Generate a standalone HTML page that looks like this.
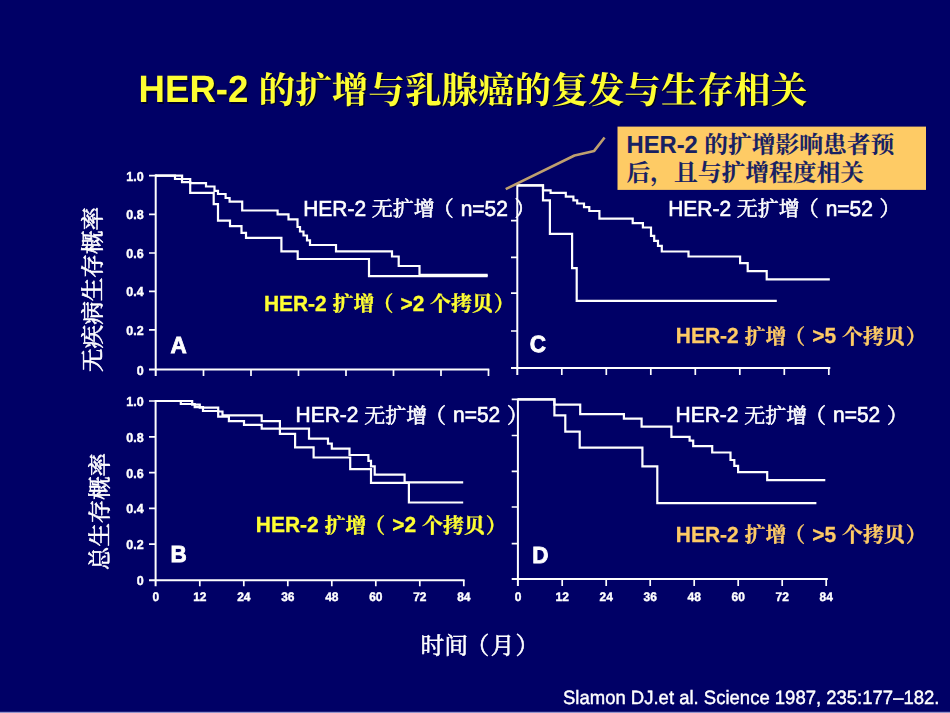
<!DOCTYPE html>
<html lang="zh"><head><meta charset="utf-8"><title>HER-2 的扩增与乳腺癌的复发与生存相关</title>
<style>
html,body{margin:0;padding:0;background:#000066;}
body{width:950px;height:713px;overflow:hidden;position:relative;font-family:"Liberation Sans","Noto Serif CJK SC",sans-serif;}
svg{position:absolute;left:0;top:0;display:block;}
svg text{font-family:"Liberation Sans","Noto Serif CJK SC",sans-serif;font-kerning:none;text-rendering:geometricPrecision;}
.sr{position:absolute;left:0;top:0;width:950px;height:713px;overflow:hidden;opacity:0;font-size:10px;color:transparent;pointer-events:none;}
</style></head><body>
<div class="sr"><h1>HER-2 的扩增与乳腺癌的复发与生存相关</h1><p>HER-2 的扩增影响患者预后，且与扩增程度相关</p><p>无疾病生存概率</p><p>总生存概率</p><p>HER-2 无扩增（ n=52 ）</p><p>HER-2 扩增（ &gt;2 个拷贝）</p><p>HER-2 扩增（ &gt;5 个拷贝）</p><p>时间（月）</p></div>
<svg width="950" height="713" viewBox="0 0 950 713">
<rect width="950" height="713" fill="#000066"/>
<g opacity="0.999">
<path d="M155.7 174.6V376.0M149 369.5H489.3" fill="none" stroke="#fff" stroke-width="2"/><path d="M149 175.6H155.7M149 214.3H155.7M149 253.0H155.7M149 291.4H155.7M149 329.8H155.7M203.5 369.5V376.0M251.0 369.5V376.0M298.5 369.5V376.0M346.0 369.5V376.0M393.5 369.5V376.0M441.0 369.5V376.0M488.5 369.5V376.0" fill="none" stroke="#fff" stroke-width="1.7"/>
<path d="M155.4 175.6H182.1V179H190.2V183.2H206V186.5H214.5V190.8H218V194H225.6V198H229.6V201.7H242.2V210.5H277.6V214.3H288.5V219.4H297.5V227H300V231.5H303.5V235.5H307V240.3H310V245H336V251.3H392V256.5H398.7V266H419.5V274.8H487.7" fill="none" stroke="#fff" stroke-width="2.2" stroke-linejoin="miter"/>
<path d="M155.4 175.6H175V179H182V182.2H190.2V192.8H213.7V204.2H218V220.6H230V226.2H241.5V232.8H246V237.8H281.4V251.3H297.7V259H369V276.2H487.7" fill="none" stroke="#fff" stroke-width="2.2" stroke-linejoin="miter"/>
<path d="M155.6 400V586.3M149 580.3H464.6" fill="none" stroke="#fff" stroke-width="2"/><path d="M149 401H155.6M149 436.8H155.6M149 472.7H155.6M149 508.3H155.6M149 544.2H155.6M199.8 580.3V586.3M243.8 580.3V586.3M287.8 580.3V586.3M331.8 580.3V586.3M375.8 580.3V586.3M419.8 580.3V586.3M463.8 580.3V586.3" fill="none" stroke="#fff" stroke-width="1.7"/>
<path d="M155.6 401H192.2V404.7H199.8V407.7H218.2V411.5H222.5V415.3H261.7V421.1H279.9V428.7H309V438.6H328V443.6H331.8V448.7H349.5V455H368.4V460.8H371V466.4H374.7V474.7H404.6V482.3H463.2" fill="none" stroke="#fff" stroke-width="2.2" stroke-linejoin="miter"/>
<path d="M155.6 401H180.8V404H194.7V407.2H203V411H218.2V416.6H228.9V421.1H244V424.9H261.7V428.7H279.9V433.8H295.1V447.4H313.6V457.5H350.2V469.1H371V482.8H408.9V502.5H463.2" fill="none" stroke="#fff" stroke-width="2.2" stroke-linejoin="miter"/>
<path d="M517.3 184.3V375.1M511 368.1H830.3" fill="none" stroke="#fff" stroke-width="2"/><path d="M511 220.6H517.3M511 257.3H517.3M511 293.1H517.3M511 331.0H517.3M561.8 368.1V375.1M606.3 368.1V375.1M650.8 368.1V375.1M695.3 368.1V375.1M739.8 368.1V375.1M784.3 368.1V375.1M828.8 368.1V375.1" fill="none" stroke="#fff" stroke-width="1.7"/>
<path d="M517.3 185.3H543V190.3H550.6V192.8H565.8V196.6H573.4V200.4H577.2V203.5H584V207.2H589.3V211H599.4V218.6H632.7V223.2H642.9V227.5H651V235.8H654.2V240.8H658V245.9H661.8V251.5H688.5V256.5H740.1V263.1H747.7V271.2H766.7V279.3H829.8" fill="none" stroke="#fff" stroke-width="2.2" stroke-linejoin="miter"/>
<path d="M517.3 185.3H543V200.4H549.9V233.8H572.1V268.1H576.7V300.8H776.8" fill="none" stroke="#fff" stroke-width="2.2" stroke-linejoin="miter"/>
<path d="M517.9 398.4V585.9M511.7 578.9H827.8" fill="none" stroke="#fff" stroke-width="2"/><path d="M511.7 399.4H517.9M511.7 435.5H517.9M511.7 471.4H517.9M511.7 507H517.9M511.7 543.6H517.9M562.2 578.9V585.9M606.2 578.9V585.9M650.2 578.9V585.9M694.2 578.9V585.9M738.2 578.9V585.9M782.2 578.9V585.9M826.2 578.9V585.9" fill="none" stroke="#fff" stroke-width="1.7"/>
<path d="M517.9 399.4H554.4V404.7H580.2V414.1H623.9V418.6H641.6V426.7H671.4V436.8H689.6V440.6H693.2V446.1H712.2V452.5H730.5V460H734.3V465.8H738.1V472.2H767.2V480.2H825.3" fill="none" stroke="#fff" stroke-width="2.2" stroke-linejoin="miter"/>
<path d="M517.9 399.4H554.4V415.3H565.3V431.7H579.7V447.7H642.4V466.4H657.3V503.2H816.4" fill="none" stroke="#fff" stroke-width="2.2" stroke-linejoin="miter"/>
<text transform="translate(143.6,180.6) scale(1,1.041)" font-size="12.5" font-weight="700" fill="#fff" stroke="#fff" stroke-width="0.4" text-anchor="end">1.0</text>
<text transform="translate(143.6,219.3) scale(1,1.041)" font-size="12.5" font-weight="700" fill="#fff" stroke="#fff" stroke-width="0.4" text-anchor="end">0.8</text>
<text transform="translate(143.6,258.0) scale(1,1.041)" font-size="12.5" font-weight="700" fill="#fff" stroke="#fff" stroke-width="0.4" text-anchor="end">0.6</text>
<text transform="translate(143.6,296.4) scale(1,1.041)" font-size="12.5" font-weight="700" fill="#fff" stroke="#fff" stroke-width="0.4" text-anchor="end">0.4</text>
<text transform="translate(143.6,334.8) scale(1,1.041)" font-size="12.5" font-weight="700" fill="#fff" stroke="#fff" stroke-width="0.4" text-anchor="end">0.2</text>
<text transform="translate(143.6,374.5) scale(1,1.041)" font-size="12.5" font-weight="700" fill="#fff" stroke="#fff" stroke-width="0.4" text-anchor="end">0</text>
<text transform="translate(143.6,406.0) scale(1,1.041)" font-size="12.5" font-weight="700" fill="#fff" stroke="#fff" stroke-width="0.4" text-anchor="end">1.0</text>
<text transform="translate(143.6,441.8) scale(1,1.041)" font-size="12.5" font-weight="700" fill="#fff" stroke="#fff" stroke-width="0.4" text-anchor="end">0.8</text>
<text transform="translate(143.6,477.7) scale(1,1.041)" font-size="12.5" font-weight="700" fill="#fff" stroke="#fff" stroke-width="0.4" text-anchor="end">0.6</text>
<text transform="translate(143.6,513.3) scale(1,1.041)" font-size="12.5" font-weight="700" fill="#fff" stroke="#fff" stroke-width="0.4" text-anchor="end">0.4</text>
<text transform="translate(143.6,549.2) scale(1,1.041)" font-size="12.5" font-weight="700" fill="#fff" stroke="#fff" stroke-width="0.4" text-anchor="end">0.2</text>
<text transform="translate(143.6,585.3) scale(1,1.041)" font-size="12.5" font-weight="700" fill="#fff" stroke="#fff" stroke-width="0.4" text-anchor="end">0</text>
<text transform="translate(155.8,601) scale(1,1.041)" font-size="12" font-weight="700" fill="#fff" stroke="#fff" stroke-width="0.4" text-anchor="middle">0</text>
<text transform="translate(199.8,601) scale(1,1.041)" font-size="12" font-weight="700" fill="#fff" stroke="#fff" stroke-width="0.4" text-anchor="middle">12</text>
<text transform="translate(243.8,601) scale(1,1.041)" font-size="12" font-weight="700" fill="#fff" stroke="#fff" stroke-width="0.4" text-anchor="middle">24</text>
<text transform="translate(287.8,601) scale(1,1.041)" font-size="12" font-weight="700" fill="#fff" stroke="#fff" stroke-width="0.4" text-anchor="middle">36</text>
<text transform="translate(331.8,601) scale(1,1.041)" font-size="12" font-weight="700" fill="#fff" stroke="#fff" stroke-width="0.4" text-anchor="middle">48</text>
<text transform="translate(375.8,601) scale(1,1.041)" font-size="12" font-weight="700" fill="#fff" stroke="#fff" stroke-width="0.4" text-anchor="middle">60</text>
<text transform="translate(419.8,601) scale(1,1.041)" font-size="12" font-weight="700" fill="#fff" stroke="#fff" stroke-width="0.4" text-anchor="middle">72</text>
<text transform="translate(463.8,601) scale(1,1.041)" font-size="12" font-weight="700" fill="#fff" stroke="#fff" stroke-width="0.4" text-anchor="middle">84</text>
<text transform="translate(518.2,600.7) scale(1,1.041)" font-size="12" font-weight="700" fill="#fff" stroke="#fff" stroke-width="0.4" text-anchor="middle">0</text>
<text transform="translate(562.2,600.7) scale(1,1.041)" font-size="12" font-weight="700" fill="#fff" stroke="#fff" stroke-width="0.4" text-anchor="middle">12</text>
<text transform="translate(606.2,600.7) scale(1,1.041)" font-size="12" font-weight="700" fill="#fff" stroke="#fff" stroke-width="0.4" text-anchor="middle">24</text>
<text transform="translate(650.2,600.7) scale(1,1.041)" font-size="12" font-weight="700" fill="#fff" stroke="#fff" stroke-width="0.4" text-anchor="middle">36</text>
<text transform="translate(694.2,600.7) scale(1,1.041)" font-size="12" font-weight="700" fill="#fff" stroke="#fff" stroke-width="0.4" text-anchor="middle">48</text>
<text transform="translate(738.2,600.7) scale(1,1.041)" font-size="12" font-weight="700" fill="#fff" stroke="#fff" stroke-width="0.4" text-anchor="middle">60</text>
<text transform="translate(782.2,600.7) scale(1,1.041)" font-size="12" font-weight="700" fill="#fff" stroke="#fff" stroke-width="0.4" text-anchor="middle">72</text>
<text transform="translate(826.2,600.7) scale(1,1.041)" font-size="12" font-weight="700" fill="#fff" stroke="#fff" stroke-width="0.4" text-anchor="middle">84</text>
<text transform="translate(170.5,353.2) scale(1,1.041)" font-size="22.5" font-weight="700" fill="#fff" stroke="#fff" stroke-width="0.8">A</text>
<text transform="translate(170.6,562.2) scale(1,1.041)" font-size="22.5" font-weight="700" fill="#fff" stroke="#fff" stroke-width="0.8">B</text>
<text transform="translate(529.7,352.4) scale(1,1.041)" font-size="22.5" font-weight="700" fill="#fff" stroke="#fff" stroke-width="0.8">C</text>
<text transform="translate(532.3,563.2) scale(1,1.041)" font-size="22.5" font-weight="700" fill="#fff" stroke="#fff" stroke-width="0.8">D</text>
<path d="M505.7 189.1L574.5 155.5L594.2 150.9L604.6 137.5" fill="none" stroke="#BFA070" stroke-width="2.6" stroke-linejoin="round"/>
<rect x="617.5" y="126.6" width="308.5" height="63.3" fill="#FFCC66"/>
<g transform="translate(626.5,152.5)" fill="#182264" stroke="#182264" stroke-width="0.1"><text transform="scale(1,1.041)" x="0.00" y="0" font-size="23.75" font-weight="700" xml:space="preserve">HER-2 </text><text x="77.86" y="0.36" font-size="23.75" font-weight="700">的扩增影响患者预</text></g>
<g transform="translate(626.5,181.0)" fill="#182264" stroke="#182264" stroke-width="0.1"><text x="0" y="0.36" font-size="23.75" font-weight="700">后，且与扩增程度相关</text></g>
<g transform="translate(1.5,1.5)"><g transform="translate(138.6,102.1)" fill="#000028" stroke="#000028" stroke-width="0"><text transform="scale(1,1.041)" x="0.00" y="0" font-size="36.6" font-weight="700" xml:space="preserve">HER-2 </text><text x="119.99" y="0.55" font-size="36.6" font-weight="700">的扩增与乳腺癌的复发与生存相关</text></g></g><g transform="translate(138.6,102.1)" fill="#FFFF33" stroke="#FFFF33" stroke-width="0"><text transform="scale(1,1.041)" x="0.00" y="0" font-size="36.6" font-weight="700" xml:space="preserve">HER-2 </text><text x="119.99" y="0.55" font-size="36.6" font-weight="700">的扩增与乳腺癌的复发与生存相关</text></g>
<g transform="translate(303.2,216)" fill="#fff" stroke="#fff" stroke-width="0.6"><text transform="scale(1,1.041)" x="0.00" y="0" font-size="20.95" xml:space="preserve">HER-2 </text><text x="68.68" y="0.31" font-size="20.95">无扩增</text><text x="129.44" y="0.31" font-size="20.95">（</text><text transform="scale(1,1.041)" x="151.64" y="0" font-size="20.95" xml:space="preserve"> n=52 </text><text x="211.31" y="0.31" font-size="20.95">）</text></g>
<g transform="translate(668.2,216)" fill="#fff" stroke="#fff" stroke-width="0.6"><text transform="scale(1,1.041)" x="0.00" y="0" font-size="20.95" xml:space="preserve">HER-2 </text><text x="68.68" y="0.31" font-size="20.95">无扩增</text><text x="129.44" y="0.31" font-size="20.95">（</text><text transform="scale(1,1.041)" x="151.64" y="0" font-size="20.95" xml:space="preserve"> n=52 </text><text x="211.31" y="0.31" font-size="20.95">）</text></g>
<g transform="translate(295.6,422.3)" fill="#fff" stroke="#fff" stroke-width="0.6"><text transform="scale(1,1.041)" x="0.00" y="0" font-size="20.95" xml:space="preserve">HER-2 </text><text x="68.68" y="0.31" font-size="20.95">无扩增</text><text x="129.44" y="0.31" font-size="20.95">（</text><text transform="scale(1,1.041)" x="151.64" y="0" font-size="20.95" xml:space="preserve"> n=52 </text><text x="211.31" y="0.31" font-size="20.95">）</text></g>
<g transform="translate(675.6,422.3)" fill="#fff" stroke="#fff" stroke-width="0.6"><text transform="scale(1,1.041)" x="0.00" y="0" font-size="20.95" xml:space="preserve">HER-2 </text><text x="68.68" y="0.31" font-size="20.95">无扩增</text><text x="129.44" y="0.31" font-size="20.95">（</text><text transform="scale(1,1.041)" x="151.64" y="0" font-size="20.95" xml:space="preserve"> n=52 </text><text x="211.31" y="0.31" font-size="20.95">）</text></g>
<g transform="translate(263.9,311)" fill="#FFFF33" stroke="#FFFF33" stroke-width="0.3"><text transform="scale(1,1.041)" x="0.00" y="0" font-size="20.95" font-weight="700" xml:space="preserve">HER-2 </text><text x="68.68" y="0.31" font-size="20.95" font-weight="700">扩增</text><text x="108.49" y="0.31" font-size="20.95" font-weight="700">（</text><text transform="scale(1,1.041)" x="130.69" y="0" font-size="20.95" font-weight="700" xml:space="preserve"> &gt;2 </text><text x="166.22" y="0.31" font-size="20.95" font-weight="700">个拷贝</text><text x="229.91" y="0.31" font-size="20.95" font-weight="700">）</text></g>
<g transform="translate(255.8,532.4)" fill="#FFFF33" stroke="#FFFF33" stroke-width="0.3"><text transform="scale(1,1.041)" x="0.00" y="0" font-size="20.95" font-weight="700" xml:space="preserve">HER-2 </text><text x="68.68" y="0.31" font-size="20.95" font-weight="700">扩增</text><text x="108.49" y="0.31" font-size="20.95" font-weight="700">（</text><text transform="scale(1,1.041)" x="130.69" y="0" font-size="20.95" font-weight="700" xml:space="preserve"> &gt;2 </text><text x="166.22" y="0.31" font-size="20.95" font-weight="700">个拷贝</text><text x="229.91" y="0.31" font-size="20.95" font-weight="700">）</text></g>
<g transform="translate(675.8,343.2)" fill="#FFCC66" stroke="#FFCC66" stroke-width="0.3"><text transform="scale(1,1.041)" x="0.00" y="0" font-size="20.95" font-weight="700" xml:space="preserve">HER-2 </text><text x="68.68" y="0.31" font-size="20.95" font-weight="700">扩增</text><text x="108.49" y="0.31" font-size="20.95" font-weight="700">（</text><text transform="scale(1,1.041)" x="130.69" y="0" font-size="20.95" font-weight="700" xml:space="preserve"> &gt;5 </text><text x="166.22" y="0.31" font-size="20.95" font-weight="700">个拷贝</text><text x="229.91" y="0.31" font-size="20.95" font-weight="700">）</text></g>
<g transform="translate(675.8,541.5)" fill="#FFCC66" stroke="#FFCC66" stroke-width="0.3"><text transform="scale(1,1.041)" x="0.00" y="0" font-size="20.95" font-weight="700" xml:space="preserve">HER-2 </text><text x="68.68" y="0.31" font-size="20.95" font-weight="700">扩增</text><text x="108.49" y="0.31" font-size="20.95" font-weight="700">（</text><text transform="scale(1,1.041)" x="130.69" y="0" font-size="20.95" font-weight="700" xml:space="preserve"> &gt;5 </text><text x="166.22" y="0.31" font-size="20.95" font-weight="700">个拷贝</text><text x="229.91" y="0.31" font-size="20.95" font-weight="700">）</text></g>
<g transform="translate(100.5,372) rotate(-90)" fill="#fff" stroke="#fff" stroke-width="0.6"><text x="0" y="0.35" font-size="23.6">无疾病生存概率</text></g>
<g transform="translate(107.5,570) rotate(-90)" fill="#fff" stroke="#fff" stroke-width="0.6"><text x="0" y="0.35" font-size="23.4">总生存概率</text></g>
<g transform="translate(420.5,654)" fill="#fff" stroke="#fff" stroke-width="0.6"><text x="0" y="0.36" font-size="23.75">时间</text><text x="45.12" y="0.36" font-size="23.75">（</text><text x="70.30" y="0.36" font-size="23.75">月</text><text x="95.00" y="0.36" font-size="23.75">）</text></g>
<text transform="translate(563,703.6) scale(1,1.041)" font-size="18.5" fill="#fff" stroke="#fff" stroke-width="0.4">Slamon DJ.et al. Science 1987, 235:177–182.</text>
<rect x="0" y="711" width="950" height="1" fill="#20207C"/><rect x="0" y="712" width="950" height="1" fill="#9494CC"/>
</g>
</svg>
</body></html>
